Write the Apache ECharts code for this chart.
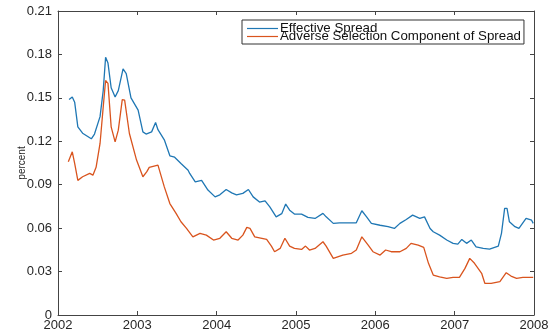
<!DOCTYPE html>
<html>
<head>
<meta charset="utf-8">
<script src="https://cdn.jsdelivr.net/npm/echarts@6/dist/echarts.min.js"></script>
<style>
html,body{margin:0;padding:0;background:#fff;}
#c{width:553px;height:333px;}
</style>
</head>
<body>
<div id="c"></div>
<script>
const seriesNames = ['Effective Spread', 'Adverse Selection Component of Spread'];
const xTicks = [2002, 2003, 2004, 2005, 2006, 2007, 2008];
const yTicks = [0, 0.03, 0.06, 0.09, 0.12, 0.15, 0.18, 0.21];

const effYears = [2002.14,2002.18,2002.21,2002.25,2002.31,2002.42,2002.46,2002.53,2002.57,2002.60,2002.63,2002.67,2002.72,2002.76,2002.82,2002.86,2002.92,2003.01,2003.07,2003.11,2003.18,2003.23,2003.26,2003.34,2003.41,2003.47,2003.55,2003.64,2003.66,2003.73,2003.81,2003.89,2003.98,2004.04,2004.12,2004.19,2004.25,2004.33,2004.40,2004.46,2004.54,2004.61,2004.67,2004.75,2004.82,2004.87,2004.92,2004.98,2005.07,2005.15,2005.24,2005.34,2005.38,2005.47,2005.55,2005.68,2005.76,2005.83,2005.89,2005.95,2006.06,2006.16,2006.24,2006.31,2006.39,2006.47,2006.56,2006.62,2006.69,2006.73,2006.81,2006.90,2006.98,2007.04,2007.09,2007.15,2007.21,2007.27,2007.36,2007.44,2007.55,2007.59,2007.63,2007.66,2007.69,2007.76,2007.81,2007.90,2007.97,2007.99];
const effValues = [0.1488,0.1506,0.147,0.130,0.1256,0.1217,0.125,0.137,0.155,0.178,0.174,0.157,0.1506,0.155,0.170,0.1667,0.150,0.1415,0.1265,0.125,0.1265,0.133,0.128,0.121,0.110,0.109,0.1047,0.100,0.0978,0.092,0.093,0.0863,0.0816,0.083,0.0867,0.0844,0.083,0.084,0.0867,0.0816,0.078,0.0789,0.0747,0.0678,0.070,0.0766,0.0724,0.0697,0.0697,0.0674,0.0667,0.0702,0.0678,0.0633,0.0637,0.0637,0.0637,0.072,0.0678,0.0633,0.062,0.061,0.0598,0.0633,0.066,0.069,0.0667,0.0678,0.0598,0.0575,0.0552,0.0518,0.0495,0.049,0.0522,0.0495,0.0518,0.0471,0.046,0.0455,0.0476,0.0564,0.0736,0.0736,0.0644,0.061,0.0598,0.0667,0.0655,0.0633];

const advYears = [2002.13,2002.18,2002.21,2002.25,2002.31,2002.40,2002.44,2002.48,2002.53,2002.57,2002.60,2002.63,2002.67,2002.72,2002.76,2002.81,2002.84,2002.90,2002.99,2003.07,2003.12,2003.15,2003.26,2003.28,2003.34,2003.41,2003.49,2003.55,2003.62,2003.70,2003.79,2003.87,2003.96,2004.04,2004.12,2004.19,2004.27,2004.33,2004.38,2004.42,2004.48,2004.57,2004.63,2004.69,2004.73,2004.80,2004.86,2004.92,2004.98,2005.07,2005.12,2005.17,2005.24,2005.34,2005.38,2005.47,2005.59,2005.70,2005.76,2005.83,2005.91,2005.97,2006.06,2006.13,2006.20,2006.31,2006.39,2006.45,2006.54,2006.61,2006.67,2006.73,2006.81,2006.90,2006.98,2007.06,2007.13,2007.19,2007.25,2007.34,2007.38,2007.46,2007.57,2007.65,2007.71,2007.78,2007.86,2007.99];
const advValues = [0.1058,0.1127,0.1047,0.093,0.0955,0.0978,0.0966,0.102,0.1185,0.1437,0.162,0.160,0.130,0.1196,0.1277,0.1488,0.1484,0.1254,0.107,0.0955,0.099,0.102,0.1035,0.104,0.0885,0.077,0.070,0.0644,0.0598,0.054,0.0564,0.0552,0.0518,0.053,0.0575,0.053,0.0518,0.0552,0.0605,0.0598,0.054,0.053,0.0522,0.0476,0.0437,0.046,0.053,0.0476,0.046,0.0453,0.0476,0.0449,0.046,0.0506,0.0476,0.0391,0.0414,0.0426,0.0449,0.054,0.0483,0.0437,0.0414,0.0449,0.0437,0.0437,0.046,0.0495,0.0483,0.0467,0.0357,0.0276,0.0264,0.0253,0.026,0.026,0.0322,0.0391,0.0357,0.0288,0.0219,0.0219,0.023,0.0292,0.0269,0.0253,0.026,0.026];

const pair = (xs, ys) => xs.map((x, i) => [x, ys[i]]);
const axisColor = '#444';
const labelColor = '#262626';
const font = 'Liberation Sans, Arial, Helvetica, sans-serif';

const chart = echarts.init(document.getElementById('c'), null, {renderer: 'canvas'});
chart.setOption({
  animation: false,
  backgroundColor: '#fff',
  grid: {left: 58, right: 19, top: 11, bottom: 18, containLabel: false},
  legend: {
    data: seriesNames,
    orient: 'vertical',
    left: 242,
    top: 20,
    icon: 'rect',
    itemWidth: 31,
    itemHeight: 1.2,
    itemGap: -5,
    padding: [2, 3, 1, 5],
    borderColor: '#333',
    borderWidth: 1,
    backgroundColor: '#fff',
    textStyle: {fontFamily: font, fontSize: 13.3, color: '#111', padding: [0, 0, 0, -3]}
  },
  xAxis: [{
    type: 'value', min: xTicks[0], max: xTicks[xTicks.length-1], interval: 1,
    axisLine: {show: true, lineStyle: {color: axisColor, width: 1}},
    axisTick: {show: true, inside: true, length: 4, lineStyle: {color: axisColor}},
    axisLabel: {color: labelColor, fontFamily: font, fontSize: 13, margin: 4, formatter: v => String(Math.round(v))},
    splitLine: {show: false}
  }, {
    type: 'value', position: 'top', min: xTicks[0], max: xTicks[xTicks.length-1], interval: 1,
    axisLine: {show: true, onZero: false, lineStyle: {color: axisColor, width: 1}},
    axisTick: {show: true, inside: true, length: 4, lineStyle: {color: axisColor}},
    axisLabel: {show: false}, splitLine: {show: false}
  }],
  yAxis: [{
    type: 'value', min: yTicks[0], max: yTicks[yTicks.length-1], interval: 0.03,
    name: 'percent', nameLocation: 'middle', nameGap: 31, nameMoveOverlap: false,
    nameTextStyle: {color: labelColor, fontFamily: font, fontSize: 10},
    axisLine: {show: true, lineStyle: {color: axisColor, width: 1}},
    axisTick: {show: true, inside: true, length: 4, lineStyle: {color: axisColor}},
    axisLabel: {color: labelColor, fontFamily: font, fontSize: 13, margin: 6,
      formatter: v => (Math.abs(v) < 1e-9 ? '0' : v.toFixed(2))},
    splitLine: {show: false}
  }, {
    type: 'value', position: 'right', min: yTicks[0], max: yTicks[yTicks.length-1], interval: 0.03,
    axisLine: {show: true, onZero: false, lineStyle: {color: axisColor, width: 1}},
    axisTick: {show: true, inside: true, length: 4, lineStyle: {color: axisColor}},
    axisLabel: {show: false}, splitLine: {show: false}
  }],
  series: [{
    name: seriesNames[0], type: 'line', xAxisIndex: 0, yAxisIndex: 0,
    data: pair(effYears, effValues), showSymbol: false, symbol: 'none',
    lineStyle: {color: '#1f77b4', width: 1.3}, itemStyle: {color: '#1f77b4'}
  }, {
    name: seriesNames[1], type: 'line', xAxisIndex: 0, yAxisIndex: 0,
    data: pair(advYears, advValues), showSymbol: false, symbol: 'none',
    lineStyle: {color: '#d9541e', width: 1.3}, itemStyle: {color: '#d9541e'}
  }]
});
</script>
</body>
</html>
